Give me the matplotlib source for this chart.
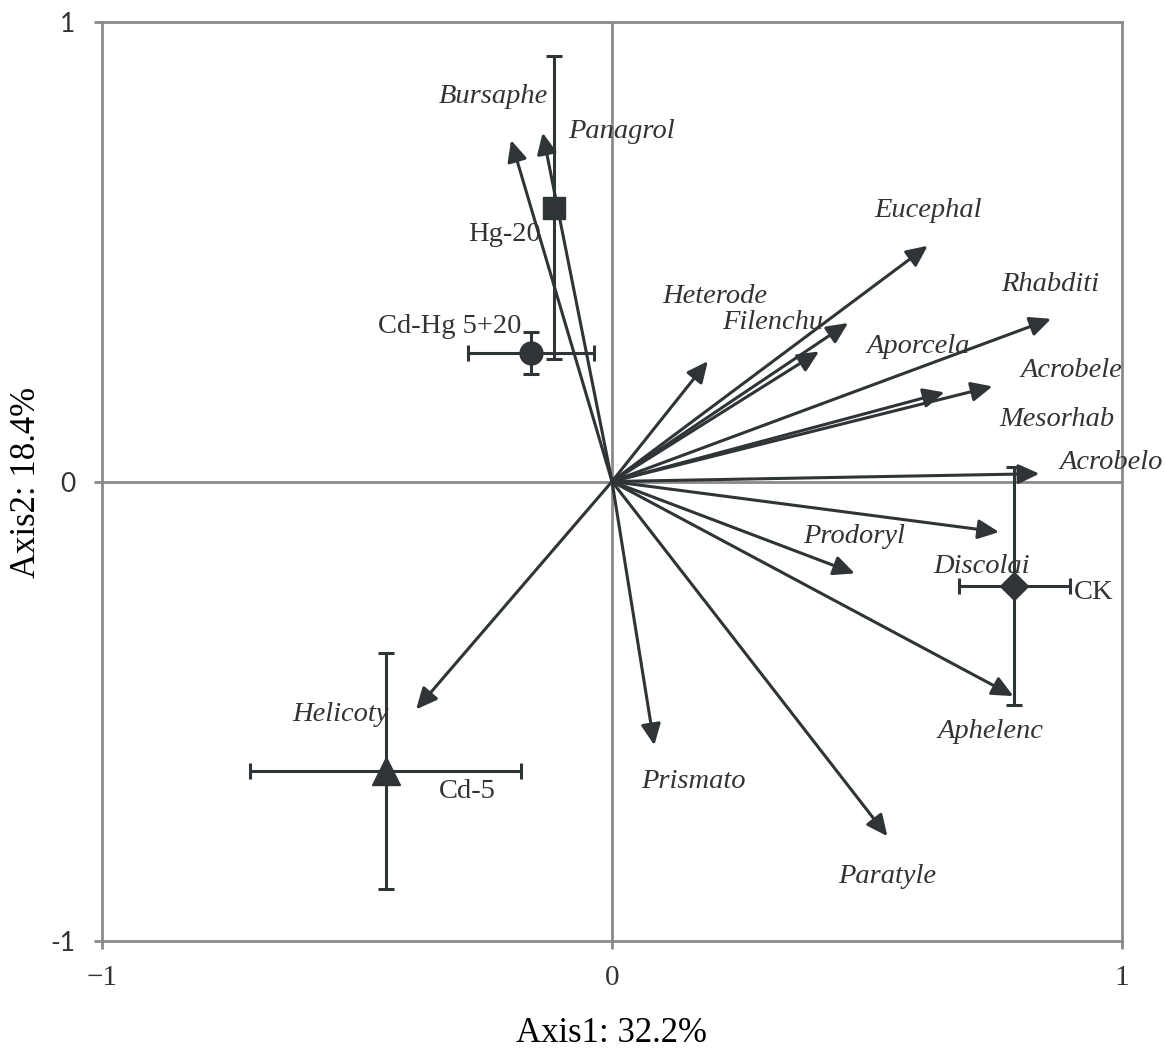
import numpy as np
import matplotlib
matplotlib.use("Agg")
import matplotlib.pyplot as plt

# species vectors (arrow tips, axis1 / axis2)
species = ["Bursaphe", "Panagrol", "Heterode", "Filenchu", "Aporcela", "Eucephal",
           "Rhabditi", "Mesorhab", "Acrobele", "Acrobelo", "Discolai", "Prodoryl",
           "Aphelenc", "Paratyle", "Prismato", "Helicoty"]
sp_x = [-0.198, -0.136, 0.188, 0.463, 0.406, 0.619, 0.861, 0.652, 0.746, 0.838,
        0.759, 0.476, 0.787, 0.540, 0.083, -0.384]
sp_y = [0.743, 0.759, 0.262, 0.345, 0.283, 0.513, 0.354, 0.194, 0.207, 0.017,
        -0.110, -0.200, -0.467, -0.772, -0.574, -0.496]

# treatment scores with error bars
sites = ["Hg-20", "Cd-Hg 5+20", "Cd-5", "CK"]
site_x = [-0.114, -0.159, -0.444, 0.789]
site_y = [0.596, 0.280, -0.630, -0.228]
site_xerr = [0.0, 0.123, 0.266, 0.109]
site_yerr = [0.330, 0.045, 0.256, 0.259]

# label placement (layout only)
sp_lab = {"Bursaphe": (-0.233, 0.837), "Panagrol": (0.018, 0.761), "Heterode": (0.202, 0.402),
          "Filenchu": (0.316, 0.346), "Aporcela": (0.600, 0.293), "Eucephal": (0.620, 0.589),
          "Rhabditi": (0.859, 0.428), "Mesorhab": (0.873, 0.135), "Acrobele": (0.900, 0.241),
          "Acrobelo": (0.978, 0.041), "Discolai": (0.724, -0.185), "Prodoryl": (0.474, -0.120),
          "Aphelenc": (0.743, -0.543), "Paratyle": (0.539, -0.859), "Prismato": (0.159, -0.652),
          "Helicoty": (-0.533, -0.507)}
site_lab = {"Hg-20": (-0.139, 0.537, "right"), "Cd-Hg 5+20": (-0.178, 0.337, "right"),
            "Cd-5": (-0.339, -0.674, "left"), "CK": (0.906, -0.241, "left")}
site_mk = {"Hg-20": ("s", 16), "Cd-Hg 5+20": ("o", 16.5), "Cd-5": ("^", 19.5), "CK": ("D", 14.5)}

DARK, GRID, TXT = "#2f3437", "#8a8a8a", "#333333"
SERIF = "Liberation Serif"

fig = plt.figure(figsize=(11.65, 10.49), dpi=100)
ax = fig.add_axes([102 / 1165, 1 - 941 / 1049, 1020 / 1165, 919 / 1049])
ax.set_xlim(-1, 1); ax.set_ylim(-1, 1)
for s in ax.spines.values():
    s.set_color(GRID); s.set_linewidth(2)
ax.axhline(0, color=GRID, lw=2, zorder=0)
ax.axvline(0, color=GRID, lw=2, zorder=0)
ax.set_xticks([-1, 0, 1]); ax.set_yticks([-1, 0, 1])
ax.set_xticklabels(["\u22121", "0", "1"], family=SERIF, fontsize=21, color=TXT)
ax.set_yticklabels(["-1", "0", "1"], family="Lato", fontsize=19, color=TXT)
ax.tick_params(axis="both", length=6, width=2, color=GRID)
ax.tick_params(axis="x", pad=11)
ax.tick_params(axis="y", pad=13)

for name, x, y in zip(species, sp_x, sp_y):
    ax.annotate("", xy=(x, y), xytext=(0, 0),
                arrowprops=dict(arrowstyle="-|>,head_length=0.58,head_width=0.27",
                                color=DARK, lw=2.2, mutation_scale=22,
                                shrinkA=0, shrinkB=0), zorder=2)
    lx, ly = sp_lab[name]
    ax.text(lx, ly, name, family=SERIF, style="italic", fontsize=20.5, color=TXT,
            ha="center", va="center", zorder=4)

for name, x, y, xe, ye in zip(sites, site_x, site_y, site_xerr, site_yerr):
    mk, ms = site_mk[name]
    ax.errorbar(x, y, xerr=xe, yerr=ye, fmt=mk, ms=ms, color=DARK, ecolor=DARK,
                elinewidth=2.2, capsize=6, capthick=2.2, zorder=3)
    lx, ly, ha = site_lab[name]
    ax.text(lx, ly, name, family=SERIF, fontsize=20.5, color=TXT, ha=ha, va="center", zorder=4)

fig.text(612 / 1165, 1 - 1033 / 1049, "Axis1: 32.2%", family=SERIF, fontsize=25,
         color="black", ha="center", va="center")
fig.text(27 / 1165, 1 - 482 / 1049, "Axis2: 18.4%", family=SERIF, fontsize=25,
         color="black", ha="center", va="center", rotation=90)

fig.savefig("out.png", dpi=100)
